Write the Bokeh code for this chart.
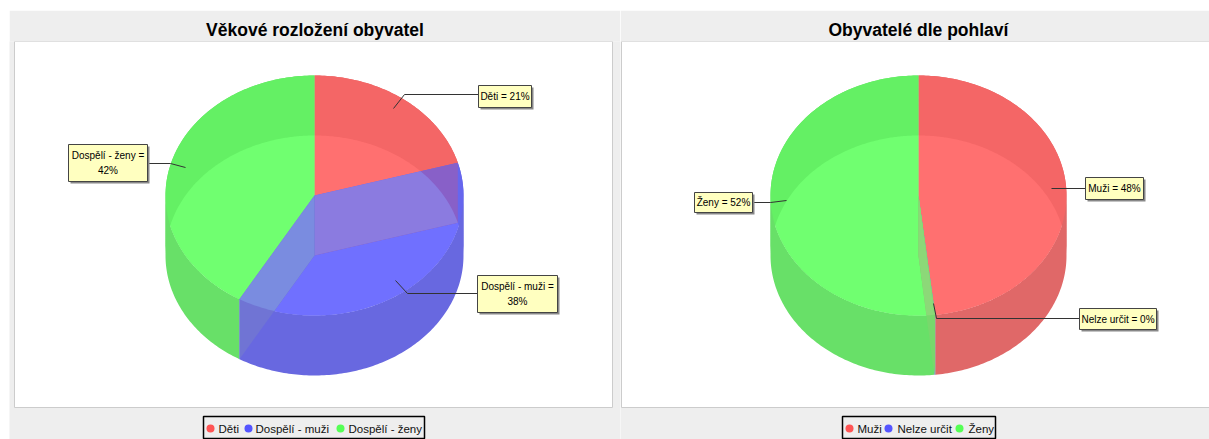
import numpy as np
from bokeh.embed import file_html
from bokeh.resources import INLINE
from bokeh.models import Range1d, Spacer
from bokeh.layouts import row, column
from bokeh.plotting import figure
from bokeh.core.properties import value

FONT = "Liberation Sans"

# ---- data ----
age_title = "Věkové rozložení obyvatel"
age_categories = ["Děti", "Dospělí - muži", "Dospělí - ženy"]
age_values = [20.6, 37.8, 41.6]
age_labels = ["Děti = 21%", "Dospělí - muži =\n38%", "Dospělí - ženy =\n42%"]

sex_title = "Obyvatelé dle pohlaví"
sex_categories = ["Muži", "Nelze určit", "Ženy"]
sex_values = [48.2, 0.1, 51.7]
sex_labels = ["Muži = 48%", "Nelze určit = 0%", "Ženy = 52%"]

# ---- styles ----
LEGEND = ["#FF5555", "#5555FF", "#55FF55"]
BRIGHT = ["#FF7070", "#7070FF", "#70FF70"]
DARK = ["#F46666", "#6666EE", "#64F064"]
WALL = ["#E06868", "#6868E0", "#68E068"]
GREY = "#EEEEEE"
TOP_Y, BOT_Y, V = 195.0, 255.0, 120.0


def ell(cx, cy, R, th):
    return cx + R * np.sin(th), cy - V * np.cos(th)


def arc(a0, a1):
    return np.linspace(a0, a1, max(int((a1 - a0) * 60), 2))


def sector(cx, R, ay, oy, a0, a1):
    """Slice of the overlap of both ellipses, seen from the apex at ay."""
    th = arc(a0, a1)
    k = (ay - oy) / V
    c, s = np.cos(th), np.sin(th)
    t = np.minimum(1.0, c * k + np.sqrt(np.maximum(c * c * k * k - k * k + 1, 0)))
    xs = cx + t * R * s
    ys = ay - t * V * c
    return np.r_[cx, xs], np.r_[ay, ys]


def lens(cx, R):
    th = np.linspace(0, 2 * np.pi, 240, endpoint=False)
    x1, y1 = ell(cx, TOP_Y, R, th)
    x2, y2 = ell(cx, BOT_Y, R, th)
    keep1 = ((x1 - cx) / R) ** 2 + ((y1 - BOT_Y) / V) ** 2 <= 1
    keep2 = ((x2 - cx) / R) ** 2 + ((y2 - TOP_Y) / V) ** 2 <= 1
    px = np.r_[x1[keep1], x2[keep2]]
    py = np.r_[y1[keep1], y2[keep2]]
    o = np.argsort(np.arctan2(py - 225, px - cx))
    return list(zip(px[o], py[o]))


def clip(poly, hull):
    out = poly
    n = len(hull)
    for i in range(n):
        a, b = hull[i], hull[(i + 1) % n]
        ins = lambda p: (b[0] - a[0]) * (p[1] - a[1]) - (b[1] - a[1]) * (p[0] - a[0]) >= 0
        res = []
        for j in range(len(out)):
            p, q = out[j], out[(j + 1) % len(out)]
            ip, iq = ins(p), ins(q)
            if ip:
                res.append(p)
            if ip != iq:
                d1 = (b[0] - a[0]) * (q[1] - p[1]) - (b[1] - a[1]) * (q[0] - p[0])
                u = ((b[0] - a[0]) * (a[1] - p[1]) - (b[1] - a[1]) * (a[0] - p[0])) / d1
                res.append((p[0] + u * (q[0] - p[0]), p[1] + u * (q[1] - p[1])))
        out = res
        if not out:
            break
    return out


def make(title, cats, vals, labels, x0, x1, plot_box, cx, R, apex,
         quad_cols, boxes, leaders, title_kw, legend):
    p = figure(width=x1 - x0, height=429, output_backend="svg", toolbar_location=None,
               x_range=Range1d(x0, x1), y_range=Range1d(439, 41), title=title,
               min_border_left=0, min_border_right=0,
               min_border_top=31, min_border_bottom=0,
               border_fill_color=GREY, background_fill_color=GREY,
               outline_line_color=None)
    p.axis.visible = False
    p.grid.visible = False
    p.title.text_font = FONT
    p.title.text_font_size = "17.5px"
    p.title.text_font_style = "bold"
    p.title.text_color = "black"
    p.title.standoff = 3
    p.title.align = title_kw["align"]
    p.title.offset = title_kw["offset"]

    p.quad(left=plot_box[0], right=plot_box[1], top=41, bottom=407,
           fill_color="white", line_color="#CCCCCC", line_width=1)

    cum = np.r_[0, np.cumsum(vals)] / np.sum(vals) * 2 * np.pi
    # outer walls, split where the silhouette turns vertical
    for i in range(len(vals)):
        cuts = [cum[i]] + [c for c in (np.pi / 2, 3 * np.pi / 2) if cum[i] < c < cum[i + 1]] + [cum[i + 1]]
        for a0, a1 in zip(cuts[:-1], cuts[1:]):
            th = arc(a0, a1)
            xt, yt = ell(cx, TOP_Y, R, th)
            xb, yb = ell(cx, BOT_Y, R, th)
            p.patch(np.r_[xt, xb[::-1]], np.r_[yt, yb[::-1]], fill_color=WALL[i], line_color=None)
    # top discs
    for i in range(len(vals)):
        xt, yt = ell(cx, TOP_Y, R, arc(cum[i], cum[i + 1]))
        p.patch(np.r_[cx, xt], np.r_[TOP_Y, yt], fill_color=DARK[i], line_color=None)
    # overlap
    for i in range(len(vals)):
        ay, oy = (TOP_Y, BOT_Y) if apex[i] == "top" else (BOT_Y, TOP_Y)
        sx, sy = sector(cx, R, ay, oy, cum[i], cum[i + 1])
        p.patch(sx, sy, fill_color=BRIGHT[i], line_color=None)
    # inner cut faces
    hull = lens(cx, R)
    for a, (inner, outer) in zip(cum[1:-1], quad_cols):
        xe, ye = ell(cx, TOP_Y, R, a)
        xf, yf = ell(cx, BOT_Y, R, a)
        q = [(cx, TOP_Y), (xe, ye), (xf, yf), (cx, BOT_Y)]
        p.patch([c[0] for c in q], [c[1] for c in q], fill_color=outer, line_color=None)
        cl = clip(q, hull)
        if cl:
            p.patch([c[0] for c in cl], [c[1] for c in cl], fill_color=inner, line_color=None)
    # leaders and label boxes
    for xs, ys in leaders:
        p.line(xs, ys, line_color="#333333", line_width=1)
    for (l, r, t, b), txt in zip(boxes, labels):
        p.quad(left=l + 2, right=r + 2, top=t + 2, bottom=b + 2, fill_color="#888888", line_color=None)
        p.quad(left=l, right=r, top=t, bottom=b, fill_color="#FFFFC0", line_color="#444444", line_width=1)
        p.text(x=[(l + r) / 2], y=[(t + b) / 2], text=[txt], text_align="center",
               text_baseline="middle", text_font=value(FONT), text_font_size="10px",
               text_color="black", text_line_height=1.45)
    # legend
    (bl, br), dots, starts = legend
    p.quad(left=bl, right=br, top=416, bottom=438, fill_color=GREY, line_color="black", line_width=1.5)
    for i, c in enumerate(cats):
        p.scatter(x=[dots[i]], y=[428], marker="circle", size=8, fill_color=LEGEND[i], line_color=None)
        p.text(x=[starts[i]], y=[428], text=[c], text_align="left", text_baseline="middle",
               text_font=value(FONT), text_font_size="11.5px", text_color="#111111")
    return p


left = make(age_title, age_categories, age_values, age_labels, 9, 620, (14, 612), 314, 149,
            ["top", "bottom", "top"],
            [("#8B7BE0", "#8860C8"), ("#7A8CE0", "#7074D4")],
            [(478, 531, 85, 107), (477, 557, 275, 312), (68, 147, 144, 181)],
            [([478, 404, 393], [94, 94, 108]), ([477, 407, 395], [293, 293, 280]),
             ([147, 170, 185], [163, 163, 167])],
            {"align": "center", "offset": 0},
            ((203, 424), [210, 248, 340], [218, 255, 348]))
right = make(sex_title, sex_categories, sex_values, sex_labels, 620, 1209, (621, 1215), 918, 148,
             ["top", "top", "top"],
             [("#8CD878", "#78D86C"), ("#8CD878", "#78D86C")],
             [(1085, 1143, 177, 199), (1079, 1156, 308, 329), (694, 752, 192, 212)],
             [([1085, 1051], [188, 188]), ([1079, 936, 933], [318, 318, 303]),
              ([752, 770, 786], [202, 202, 200])],
             {"align": "left", "offset": 208},
             ((842, 995), [849, 888, 959], [857, 897, 968]))

page = column(Spacer(height=18), row(Spacer(width=17), left, right, spacing=0), spacing=0,
              margin=(-8, -8, -8, -8))
open("out.html", "w").write(file_html(page, INLINE))
